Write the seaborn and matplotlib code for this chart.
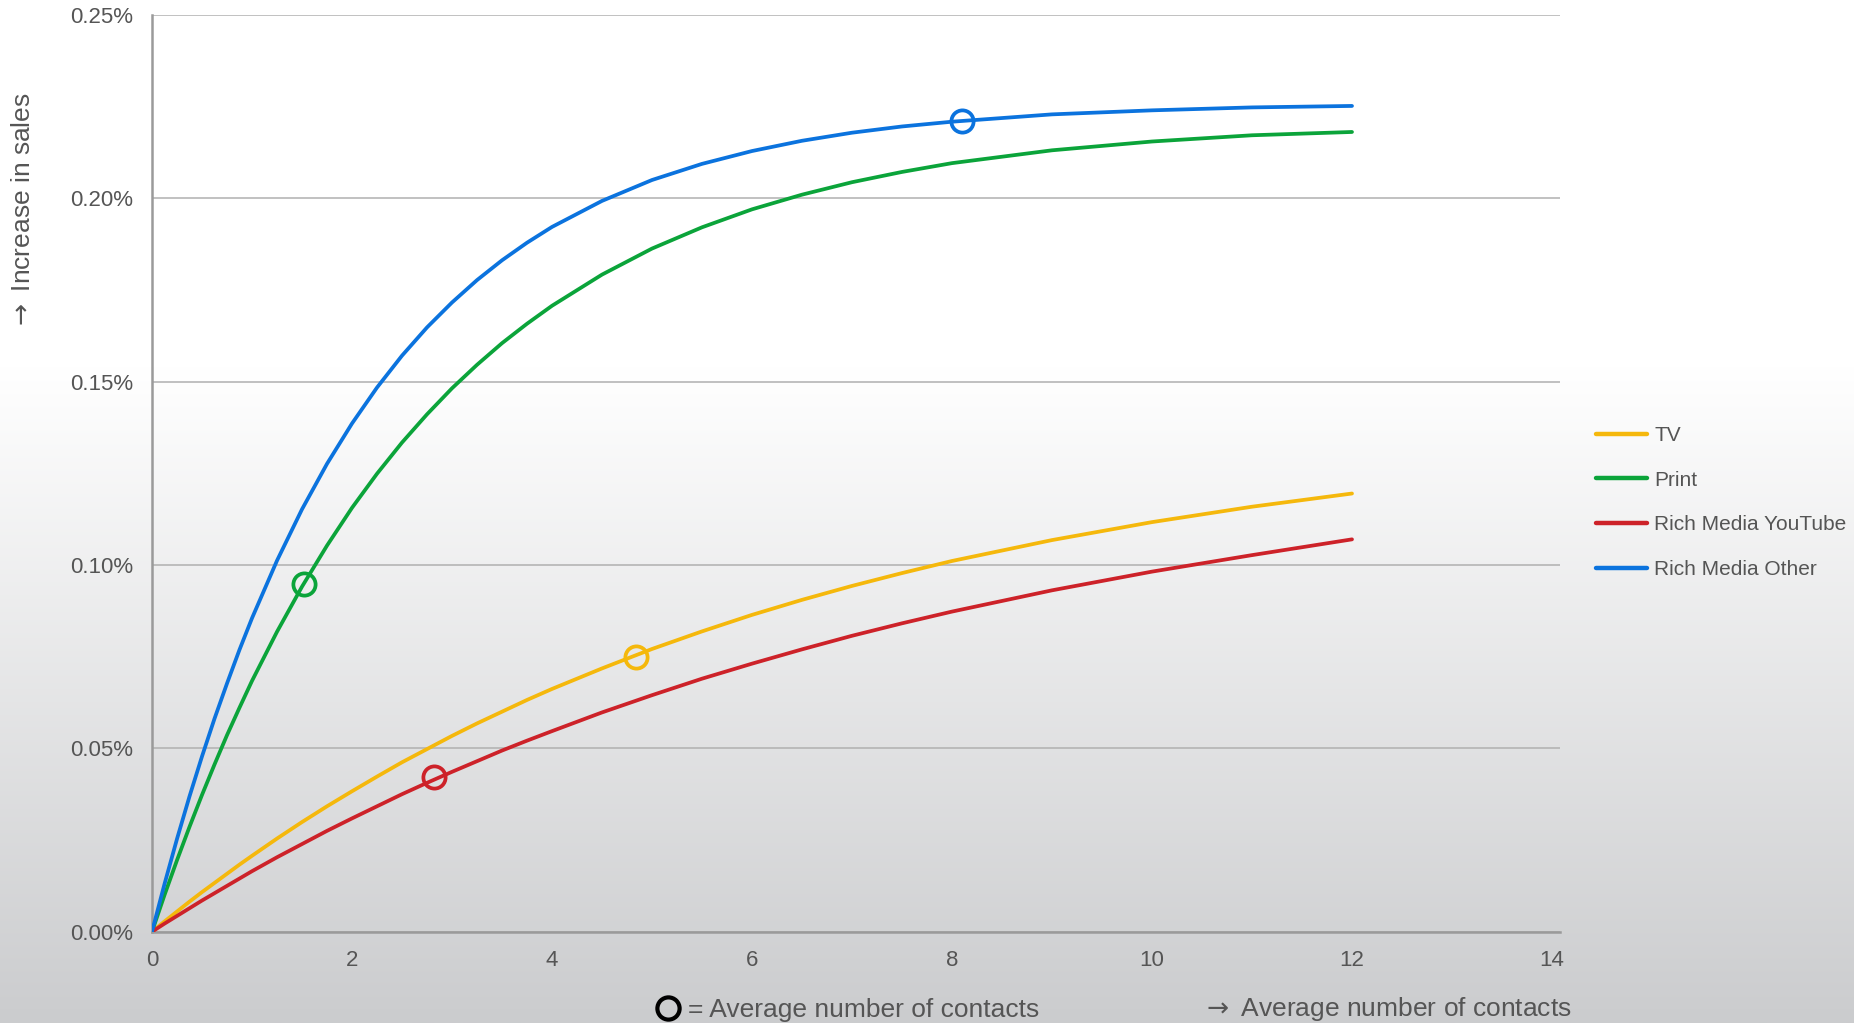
import numpy as np
import pandas as pd
import matplotlib
matplotlib.use("Agg")
import matplotlib.pyplot as plt
import seaborn as sns
from matplotlib.lines import Line2D

# ---------------- data ----------------
contacts = [0, 0.125, 0.25, 0.375, 0.5, 0.625, 0.75, 0.875, 1, 1.25, 1.5,
            1.75, 2, 2.25, 2.5, 2.75, 3, 3.25, 3.5, 3.75, 4, 4.5, 5, 5.5, 6,
            6.5, 7, 7.5, 8, 9, 10, 11, 12]
rm_other = [0, .0130, .0253, .0369, .0478, .0581, .0677, .0769, .0855, .1012,
            .1152, .1276, .1386, .1484, .1571, .1648, .1716, .1777, .1831,
            .1879, .1922, .1993, .2050, .2094, .2129, .2157, .2179, .2196,
            .2209, .2229, .2240, .2248, .2252]
print_ = [0, .0100, .0195, .0286, .0373, .0456, .0536, .0611, .0684, .0818,
          .0941, .1053, .1156, .1249, .1334, .1411, .1482, .1546, .1605,
          .1658, .1707, .1792, .1863, .1921, .1970, .2010, .2044, .2072,
          .2096, .2131, .2155, .2172, .2181]
tv = [0, .0028, .0055, .0082, .0108, .0133, .0158, .0183, .0207, .0254,
      .0299, .0342, .0383, .0423, .0462, .0498, .0534, .0568, .0600, .0632,
      .0662, .0718, .0771, .0819, .0864, .0905, .0943, .0978, .1011, .1068,
      .1117, .1159, .1195]
rm_youtube = [0, .0022, .0043, .0064, .0085, .0105, .0125, .0145, .0165,
              .0203, .0239, .0275, .0309, .0342, .0375, .0406, .0436, .0465,
              .0494, .0521, .0547, .0598, .0645, .0690, .0731, .0770, .0807,
              .0841, .0873, .0931, .0982, .1027, .1070]

series_names = ["TV", "Print", "Rich Media YouTube", "Rich Media Other"]
series_values = [tv, print_, rm_youtube, rm_other]
colors = ["#F5B80C", "#0BA43A", "#CD2229", "#0B73DE"]

# average number of contacts (circle markers)
avg_x = [4.84, 1.52, 2.82, 8.1]
avg_y = [0.0748, 0.0948, 0.0423, 0.2210]

yticks = [0.00, 0.05, 0.10, 0.15, 0.20, 0.25]
ytick_labels = ["0.00%", "0.05%", "0.10%", "0.15%", "0.20%", "0.25%"]
xticks = [0, 2, 4, 6, 8, 10, 12, 14]

# ---------------- figure ----------------
sns.set_style("white")
plt.rcParams["font.family"] = ["Liberation Sans", "DejaVu Sans"]
plt.rcParams["mathtext.fontset"] = "dejavusans"

W, H = 1854, 1023
fig = plt.figure(figsize=(W / 100, H / 100), dpi=100)

# background gradient (white at top -> light gray at bottom)
bg = fig.add_axes([0, 0, 1, 1], zorder=-10)
rows = np.linspace(0, 1, 512)
start = 0.36
t = np.clip((rows - start) / (1 - start), 0, 1)
top = np.array([255, 255, 255]) / 255
bot = np.array([203, 204, 206]) / 255
grad = top[None, :] * (1 - t[:, None]) + bot[None, :] * t[:, None]
bg.imshow(grad[:, None, :], aspect="auto", extent=[0, 1, 0, 1], origin="upper")
bg.set_axis_off()

ax_left = 152 / W
ax_bottom = 1 - 931.7 / H
ax_w = (1560 - 152) / W
ax_h = (931.7 - 15) / H
ax = fig.add_axes([ax_left, ax_bottom, ax_w, ax_h])
ax.set_facecolor("none")

df = pd.concat(
    [pd.DataFrame({"contacts": contacts, "increase": vals, "medium": name})
     for name, vals in zip(series_names, series_values)],
    ignore_index=True,
)
sns.lineplot(data=df, x="contacts", y="increase", hue="medium",
             hue_order=series_names, palette=colors, linewidth=2.7,
             ax=ax, legend=False, zorder=3)
for line in ax.lines:
    line.set_solid_capstyle("round")
    line.set_solid_joinstyle("round")

for i in range(len(series_names)):
    ax.plot(avg_x[i], avg_y[i], marker="o", ms=16, mfc="none",
            mec=colors[i], mew=2.7, zorder=4, clip_on=False)

ax.set_xlim(0, 14.08)
ax.set_ylim(0, 0.25)
ax.set_yticks(yticks)
ax.set_yticklabels(ytick_labels)
ax.set_xticks(xticks)
ax.grid(axis="y", color="#b0b0b0", linewidth=1.1)
ax.grid(axis="x", visible=False)
ax.set_axisbelow(True)
for s in ["top", "right"]:
    ax.spines[s].set_visible(False)
for s in ["left", "bottom"]:
    ax.spines[s].set_color("#9a9a9a")
    ax.spines[s].set_linewidth(1.8)
ax.tick_params(axis="both", colors="#9a9a9a", length=4.5, width=1.2,
               labelsize=16, labelcolor="#555555", pad=9)
ax.set_xlabel("")
ax.set_ylabel("")

# axis titles
fig.text(23 / W, 1 - 212 / H, r"$\rightarrow$ Increase in sales", rotation=90,
         ha="center", va="center", fontsize=19, color="#555555")
fig.text(1201 / W, 1 - 1009 / H, r"$\rightarrow$ Average number of contacts",
         ha="left", va="center", fontsize=19, color="#555555")

# circle legend note
fig.add_artist(Line2D([668 / W], [1 - 1008 / H], transform=fig.transFigure,
                      marker="o", ms=16, mfc="none", mec="black", mew=3.0))
fig.text(688 / W, 1 - 1010 / H, "= Average number of contacts",
         ha="left", va="center", fontsize=19, color="#555555")

# legend
handles = [Line2D([0], [0], color=c, linewidth=3.2, solid_capstyle="round")
           for c in colors]
leg = fig.legend(handles, series_names, loc="upper left",
                 bbox_to_anchor=(1596 / W, 1 - 426 / H),
                 frameon=False, fontsize=15, handlelength=2.45,
                 handletextpad=0.35, labelspacing=1.23, borderpad=0,
                 borderaxespad=0)
for txt in leg.get_texts():
    txt.set_color("#555555")

fig.savefig("out.png", dpi=100)
